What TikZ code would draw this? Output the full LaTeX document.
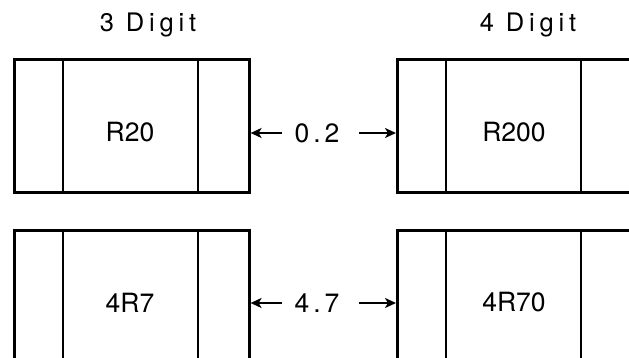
\documentclass[tikz,border=0pt]{standalone}
\usepackage{fontspec}
\setmainfont{TeX Gyre Heros}
\usetikzlibrary{arrows.meta}
\begin{document}
\begin{tikzpicture}[x=1pt,y=-1pt,
  chip/.style={draw,line width=2.6pt,minimum width=235pt,minimum height=133pt,inner sep=0pt,anchor=north west},
  divider/.style={line width=2.6pt},
  val/.style={inner sep=0pt,font=\fontsize{26.5}{30}\selectfont\addfontfeature{LetterSpace=15}},
  code/.style={inner sep=0pt,font=\fontsize{26.5}{30}\selectfont},
  head/.style={inner sep=0pt,font=\fontsize{25.5}{29}\selectfont\addfontfeature{LetterSpace=19}},
  dim/.style={line width=2pt,-{Stealth[length=11pt,width=10pt,inset=3pt]}}]
\useasboundingbox (0,0) rectangle (629,358);
\begin{scope}
\clip (0,0) rectangle (629,358);
\node[chip] (L1) at (13,58) {};
\node[chip] (R1) at (396,58) {};
\node[chip] (L2) at (13,229) {};
\node[chip] (R2) at (396,229) {};
\foreach \b in {L1,R1,L2,R2}{
  \draw[divider] ([xshift=50pt]\b.north west) -- ([xshift=50pt]\b.south west);
  \draw[divider] ([xshift=185pt]\b.north west) -- ([xshift=185pt]\b.south west);
}
\end{scope}
\node[head] (h3) at (148,24.5) {3 Digit};
\node[head] (h4) at (528,24.5) {4 Digit};
\node[code] (c1) at (130,132.5) {R20};
\node[code] (c2) at (514,132.5) {R200};
\node[code] (c3) at (130,302.5) {4R7};
\node[code] (c4) at (514,302.5) {4R70};
\node[val] (d1) at (317,133) {0.2};
\node[val] (d2) at (317,303) {4.7};
\draw[dim] (282,133) -- (L1.east |- d1);
\draw[dim] (359,133) -- (R1.west |- d1);
\draw[dim] (282,303) -- (L2.east |- d2);
\draw[dim] (359,303) -- (R2.west |- d2);
\end{tikzpicture}
\end{document}
